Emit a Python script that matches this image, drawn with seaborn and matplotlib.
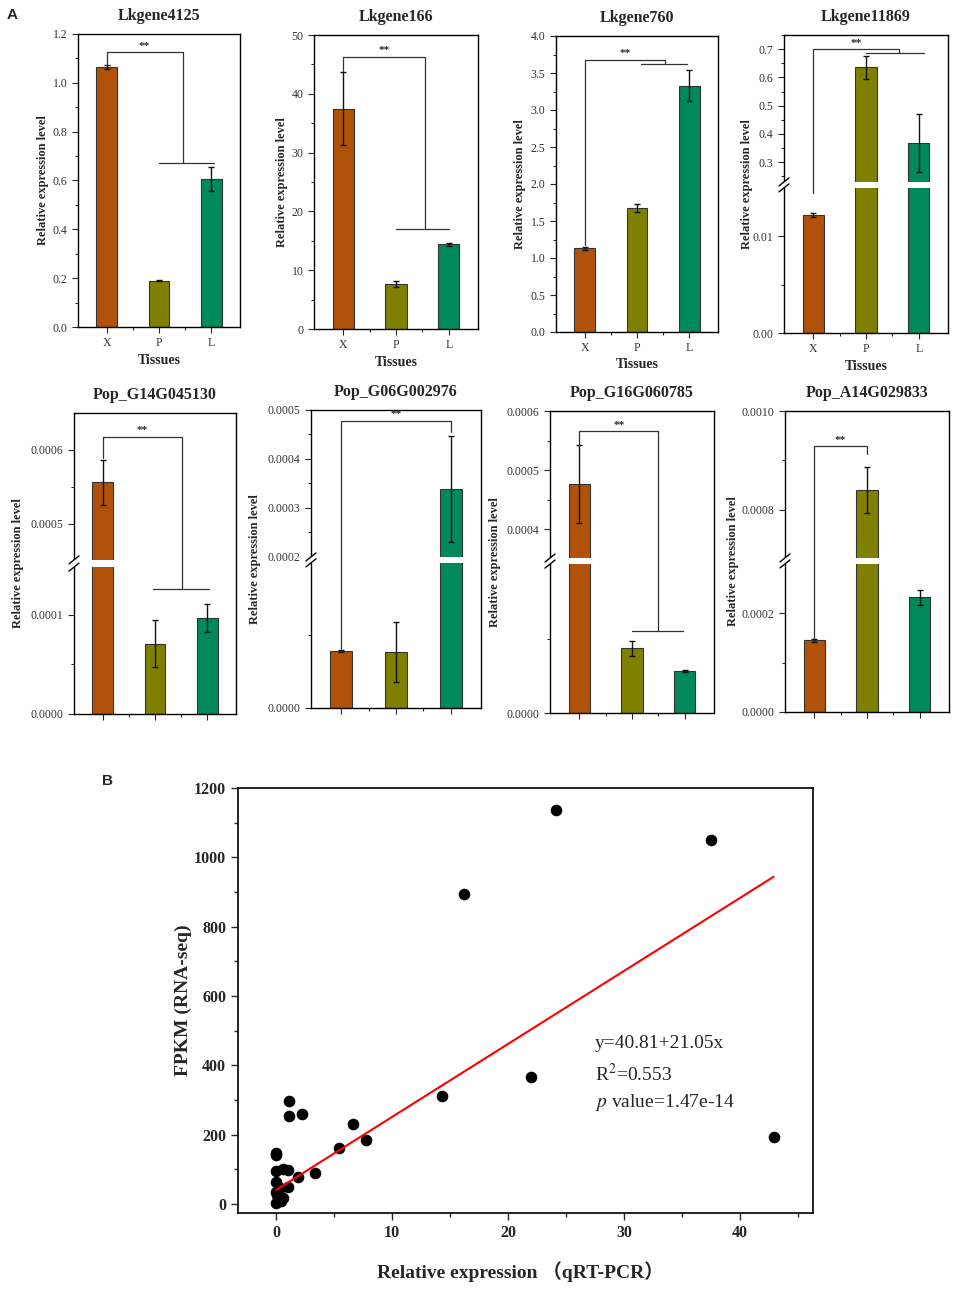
import numpy as np
import pandas as pd
import matplotlib.pyplot as plt
import seaborn as sns
from matplotlib.ticker import MultipleLocator
from matplotlib.patches import Rectangle

# =============================
# DATA
# =============================
tissues = ["X", "P", "L"]
tissue_colors = {"X": "#B0520A", "P": "#808000", "L": "#00895A"}

gene_names = ["Lkgene4125", "Lkgene166", "Lkgene760", "Lkgene11869",
              "Pop_G14G045130", "Pop_G06G002976", "Pop_G16G060785", "Pop_A14G029833"]

# mean relative expression (X, P, L) and standard deviation
mean_expr = [
    [1.065, 0.190, 0.605],
    [37.5, 7.7, 14.4],
    [1.13, 1.68, 3.33],
    [0.0122, 0.635, 0.368],
    [0.000556, 0.0000710, 0.000097],
    [0.0000393, 0.0000386, 0.000339],
    [0.000476, 0.0000436, 0.0000282],
    [0.000145, 0.00084, 0.000232],
]
sd_expr = [
    [0.008, 0.003, 0.050],
    [6.2, 0.5, 0.3],
    [0.02, 0.055, 0.21],
    [0.0002, 0.04, 0.102],
    [0.00003, 0.000024, 0.000014],
    [0.0000005, 0.000021, 0.000108],
    [0.000066, 0.000005, 0.0000005],
    [0.000003, 0.000046, 0.000015],
]

# panel B : qRT-PCR vs FPKM
qpcr = [24.1, 37.5, 16.2, 22.0, 42.9, 14.3, 7.7, 6.6, 5.4, 3.3, 1.1, 1.1, 2.2,
        0.0, 0.0, 0.0, 0.55, 1.05, 1.9, 0.0, 1.05, 0.0, 0.2, 0.6, 0.0, 0.1, 0.4, 0.3]
fpkm = [1137, 1050, 895, 366, 193, 311, 186, 231, 161, 88, 298, 255, 260,
        148, 140, 94, 100, 97, 77, 64, 50, 36, 17, 17, 3, 25, 8, 45]
fit_intercept = 40.81
fit_slope = 21.05

# =============================
# LAYOUT (pixels: left, top, right, bottom)
# =============================
panels = [
    dict(box=(78, 34, 240, 327), ylim=(0, 1.2), step=0.2, minor=0.1, fmt="{:.1f}", ylab_x=43,
         bracket=(1.075, 1.125, 1.45, 0.672, (1.0, 2.05))),
    dict(box=(314, 35, 478, 329), ylim=(0, 50), step=10, minor=5, fmt="{:.0f}", ylab_x=282,
         bracket=(43.9, 46.3, 1.54, 17.0, (1.0, 2.0))),
    dict(box=(556, 36, 718, 332), ylim=(0, 4.0), step=0.5, minor=0.25, fmt="{:.1f}", ylab_x=520,
         bracket=(1.17, 3.68, 1.53, 3.62, (1.08, 1.96))),
    dict(box=(784, 35, 948, 333), ylim=(0, 0.75), brk=(0.015, 0.23, 0.487, 0.507),
         ticks=[0, 0.01, 0.3, 0.4, 0.5, 0.6, 0.7],
         labels=["0.00", "0.01", "0.3", "0.4", "0.5", "0.6", "0.7"],
         minors=[0.005, 0.25, 0.35, 0.45, 0.55, 0.65, 0.75], ylab_x=747,
         bracket=(0.0145, 0.70, 1.62, 0.686, (1.0, 2.1))),
    dict(box=(74, 413, 236, 714), ylim=(0, 0.00065), brk=(0.000148, 0.000451, 0.488, 0.512),
         ticks=[0, 0.0001, 0.0005, 0.0006],
         labels=["0.0000", "0.0001", "0.0005", "0.0006"],
         minors=[0.00005, 0.00055], ylab_x=18,
         bracket=(0.000589, 0.000618, 1.51, 0.000126, (0.97, 2.04))),
    dict(box=(311, 410, 481, 708), ylim=(0, 0.0005), brk=(0.0001, 0.0002, 0.487, 0.507),
         ticks=[0, 0.0002, 0.0003, 0.0004, 0.0005],
         labels=["0.0000", "0.0002", "0.0003", "0.0004", "0.0005"],
         minors=[0.00005, 0.00025, 0.00035, 0.00045], ylab_x=255,
         bracket=(0.0000405, 0.000478, 2.0, 0.000455, None)),
    dict(box=(550, 411, 714, 713), ylim=(0, 0.0006), brk=(0.0001, 0.000351, 0.493, 0.513),
         ticks=[0, 0.0004, 0.0005, 0.0006],
         labels=["0.0000", "0.0004", "0.0005", "0.0006"],
         minors=[0.00005, 0.00045, 0.00055], ylab_x=495,
         bracket=(0.000541, 0.000566, 1.5, 0.000055, (1.0, 1.96))),
    dict(box=(785, 411, 949, 712), ylim=(0, 0.0010), brk=(0.0003, 0.000703, 0.492, 0.512),
         ticks=[0, 0.0002, 0.0008, 0.0010],
         labels=["0.0000", "0.0002", "0.0008", "0.0010"],
         minors=[0.0001, 0.0009], ylab_x=733,
         bracket=(0.000149, 0.000929, 1.0, 0.000913, None)),
]

sns.set_style("ticks")
plt.rcParams["font.family"] = ["Liberation Serif", "Noto Sans CJK SC"]
plt.rcParams["mathtext.fontset"] = "stix"

W, H = 957, 1312
fig = plt.figure(figsize=(W / 100, H / 100), dpi=100)


def px_axes(l, t, r, b):
    return fig.add_axes([l / W, 1 - b / H, (r - l) / W, (b - t) / H])


def broken_scale(ymin, ymax, b1, b2, f1, f2):
    # piecewise linear mapping: [ymin,b1]->[0,f1], [b1,b2]->[f1,f2], [b2,ymax]->[f2,1]
    xp = np.array([ymin, b1, b2, ymax])
    fp = np.array([0.0, f1, f2, 1.0])
    s0 = f1 / (b1 - ymin)
    s1 = (1 - f2) / (ymax - b2)

    def fwd(v):
        v = np.asarray(v, dtype=float)
        out = np.interp(v, xp, fp)
        out = np.where(v < ymin, (v - ymin) * s0, out)
        out = np.where(v > ymax, 1 + (v - ymax) * s1, out)
        return out

    def inv(u):
        u = np.asarray(u, dtype=float)
        out = np.interp(u, fp, xp)
        out = np.where(u < 0, ymin + u / s0, out)
        out = np.where(u > 1, ymax + (u - 1) / s1, out)
        return out

    return fwd, inv


line_col = "#333333"

for i, cfg in enumerate(panels):
    l, t, r, b = cfg["box"]
    ax = px_axes(l, t, r, b)
    wpx, hpx = r - l, b - t

    df = pd.DataFrame({"tissue": tissues, "level": mean_expr[i]})
    sns.barplot(data=df, x="tissue", y="level", hue="tissue", palette=tissue_colors,
                saturation=1, width=0.4, edgecolor=line_col, linewidth=0.8, errorbar=None,
                legend=False, ax=ax)
    ax.errorbar(range(3), mean_expr[i], yerr=sd_expr[i], fmt="none", ecolor="#111111",
                elinewidth=1.0, capsize=2.5, capthick=1.0, zorder=3)

    if "brk" in cfg:
        b1, b2, f1, f2 = cfg["brk"]
        fwd, inv = broken_scale(cfg["ylim"][0], cfg["ylim"][1], b1, b2, f1, f2)
        ax.set_yscale("function", functions=(fwd, inv))
        ax.set_ylim(*cfg["ylim"])
        ax.set_yticks(cfg["ticks"], cfg["labels"])
        ax.set_yticks(cfg["minors"], minor=True)
        # white gap through the bars
        ax.axhspan(b1, b2, color="white", zorder=2, lw=0)
        # break marks on the left spine
        ax.add_patch(Rectangle((-6 / wpx, f1), 12 / wpx, f2 - f1, transform=ax.transAxes,
                               color="white", clip_on=False, zorder=5, lw=0))
        for f in (f1, f2):
            ax.plot([-5 / wpx, 5 / wpx], [f - 4 / hpx, f + 4 / hpx], transform=ax.transAxes,
                    color="black", lw=1.0, clip_on=False, zorder=6)
    else:
        ax.set_ylim(*cfg["ylim"])
        ticks = np.arange(cfg["ylim"][0], cfg["ylim"][1] + cfg["step"] / 2, cfg["step"])
        ax.set_yticks(ticks, [cfg["fmt"].format(v) for v in ticks])
        ax.yaxis.set_minor_locator(MultipleLocator(cfg["minor"]))

    ax.set_xlim(-0.55, 2.55)
    ax.set_xticks([0, 1, 2])
    ax.set_xticks([0.5, 1.5], minor=True)

    # significance bracket
    y0, ytop, x1, y1, sub = cfg["bracket"]
    ax.plot([0, 0, x1, x1], [y0, ytop, ytop, y1], color=line_col, lw=0.9, zorder=4)
    if sub is not None:
        ax.plot(list(sub), [y1, y1], color=line_col, lw=0.9, zorder=4)
    ax.annotate("**", xy=(x1 / 2, ytop), xytext=(0, 1), textcoords="offset points",
                ha="center", va="bottom", fontsize=8, fontweight="bold")

    if i < 4:
        ax.set_xticklabels(tissues)
        ax.set_xlabel("Tissues", fontsize=10, fontweight="bold", va="center")
        ax.xaxis.set_label_coords(0.5, -33 / hpx)
    else:
        ax.set_xticklabels(["", "", ""])
        ax.set_xlabel("")

    ax.set_ylabel("Relative expression level", fontsize=9, fontweight="bold", va="center")
    ax.yaxis.set_label_coords((cfg["ylab_x"] - l) / wpx, 0.5)
    ax.set_title(gene_names[i], fontsize=11.5, fontweight="bold", pad=10)

    ax.tick_params(which="both", direction="out", width=0.8, labelsize=8.5,
                   labelcolor="#333333", top=False, right=False)
    ax.tick_params(which="major", length=4)
    ax.tick_params(which="minor", length=2.5)
    for sp in ax.spines.values():
        sp.set_visible(True)
        sp.set_linewidth(1.0)
        sp.set_color("black")

# =============================
# PANEL B
# =============================
axB = px_axes(238, 788, 813, 1213)
sns.scatterplot(x=qpcr, y=fpkm, color="black", s=70, linewidth=0, ax=axB, zorder=3)
fit_x = np.array([min(qpcr), max(qpcr)])
sns.lineplot(x=fit_x, y=fit_intercept + fit_slope * fit_x, color="red", lw=1.5, ax=axB, zorder=4)

axB.set_xlim(-3.3, 46.3)
axB.set_ylim(-26, 1200)
axB.xaxis.set_major_locator(MultipleLocator(10))
axB.xaxis.set_minor_locator(MultipleLocator(5))
axB.yaxis.set_major_locator(MultipleLocator(200))
axB.yaxis.set_minor_locator(MultipleLocator(100))
axB.tick_params(which="both", direction="out", width=1.0, labelsize=11.5, top=False, right=False)
axB.tick_params(which="major", length=5)
axB.tick_params(which="minor", length=3)
for lab in axB.get_xticklabels() + axB.get_yticklabels():
    lab.set_fontweight("bold")
for sp in axB.spines.values():
    sp.set_visible(True)
    sp.set_linewidth(1.2)
    sp.set_color("black")

axB.set_ylabel("FPKM (RNA-seq)", fontsize=14, fontweight="bold", va="center")
axB.yaxis.set_label_coords((183 - 238) / 575, 0.5)
axB.set_xlabel("Relative expression （qRT-PCR）", fontsize=14, fontweight="bold", va="center")
axB.xaxis.set_label_coords((520 - 238) / 575, -(1272 - 1213) / 425)

axB.text(0.621, 0.398, "y=40.81+21.05x", transform=axB.transAxes, fontsize=14, va="center")
axB.text(0.621, 0.327, "R$^2$=0.553", transform=axB.transAxes, fontsize=14, va="center")
axB.text(0.621, 0.259, "$p$ value=1.47e-14", transform=axB.transAxes, fontsize=14, va="center")

fig.text(7 / W, 1 - 15 / H, "A", fontsize=11, fontweight="bold", family="Liberation Sans", va="center")
fig.text(102 / W, 1 - 781 / H, "B", fontsize=11, fontweight="bold", family="Liberation Sans", va="center")

fig.savefig("out.png", dpi=100)
plt.close()
